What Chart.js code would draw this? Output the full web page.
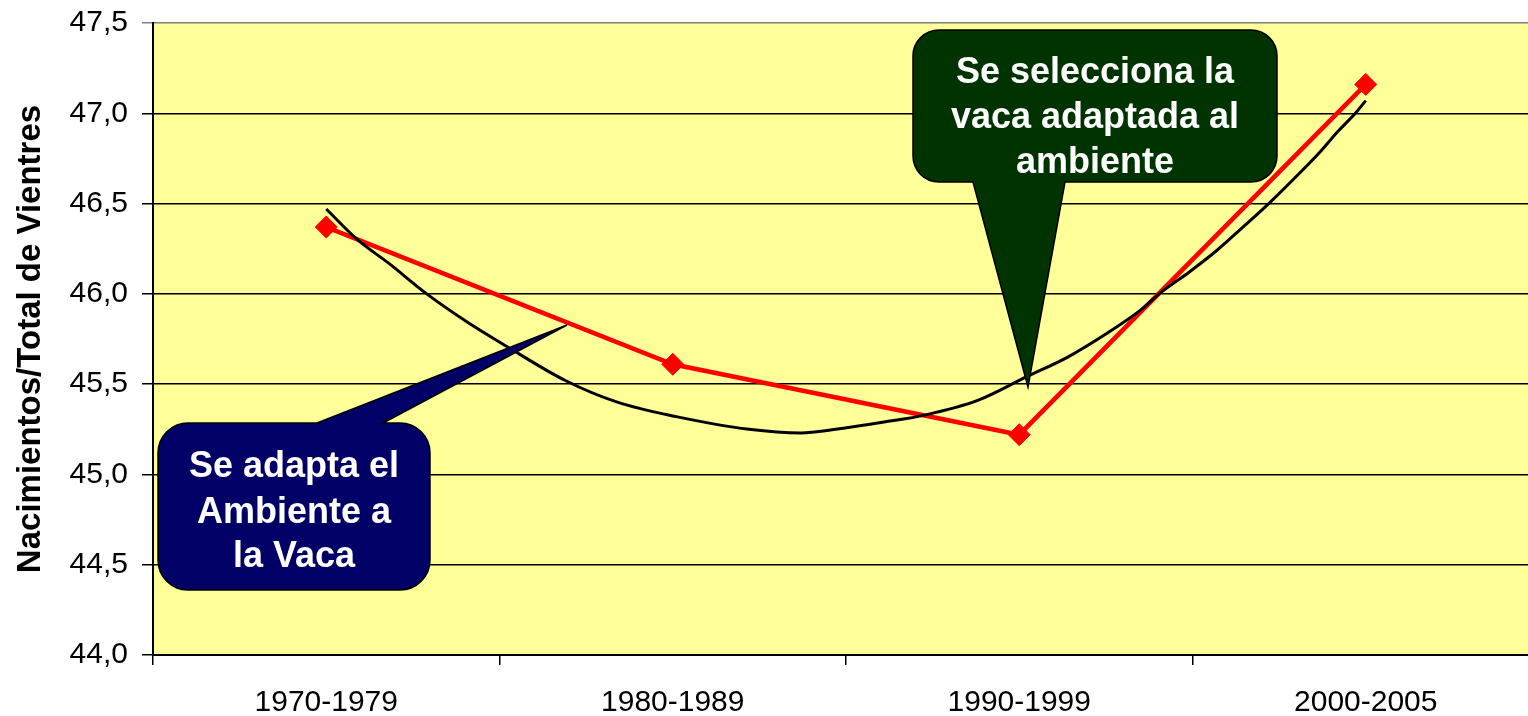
<!DOCTYPE html>
<html>
<head>
<meta charset="utf-8">
<script src="https://cdn.jsdelivr.net/npm/chart.js"></script>
<style>
  html, body { margin: 0; padding: 0; background: #fff; overflow: hidden; }
  #wrap { width: 1551px; height: 716px; }
</style>
</head>
<body>
<div id="wrap"><canvas id="chart" width="1551" height="716"></canvas></div>
<script>
const categories = ["1970-1979", "1980-1989", "1990-1999", "2000-2005"];
const birthRate = [46.37, 45.61, 45.22, 47.16];

// polynomial trend curve (x in category index units)
const trendX = [0, 0.09, 0.18, 0.29, 0.41, 0.52, 0.69, 0.84, 1.01, 1.22, 1.37, 1.47, 1.61, 1.73,
                1.88, 2.02, 2.14, 2.26, 2.35, 2.41, 2.49, 2.57, 2.64, 2.72, 2.82, 2.87, 2.92, 2.97, 3.0];
const trendY = [46.47, 46.30, 46.17, 46.00, 45.84, 45.71, 45.52, 45.40, 45.32, 45.25, 45.23, 45.25, 45.29, 45.33,
                45.41, 45.54, 45.65, 45.79, 45.91, 46.01, 46.12, 46.24, 46.36, 46.50, 46.69, 46.79, 46.90, 47.00, 47.07];

const calloutBlueText = ["Se adapta el", "Ambiente a", "la Vaca"];
const calloutGreenText = ["Se selecciona la", "vaca adaptada al", "ambiente"];

/* ---------- CALLOUTS ---------- */

const callouts = [
  { x: 158, y: 423, w: 272, h: 167, r: 30, side: "top", b1: 317, b2: 383, tip: [567, 325],
    fill: "#000066", lines: calloutBlueText, cx: 294, base: [477, 523, 567] },
  { x: 913, y: 30, w: 364, h: 152, r: 26, side: "bottom", b1: 973, b2: 1065, tip: [1028, 387],
    fill: "#003300", lines: calloutGreenText, cx: 1095, base: [83, 128, 173] }
];

function calloutPath(ctx, c) {
  const { x, y, w, h, r } = c;
  ctx.beginPath();
  ctx.moveTo(x + r, y);
  if (c.side === "top") {
    ctx.lineTo(c.b1, y);
    ctx.lineTo(c.tip[0], c.tip[1]);
    ctx.lineTo(c.b2, y);
  }
  ctx.lineTo(x + w - r, y);
  ctx.arcTo(x + w, y, x + w, y + r, r);
  ctx.lineTo(x + w, y + h - r);
  ctx.arcTo(x + w, y + h, x + w - r, y + h, r);
  if (c.side === "bottom") {
    ctx.lineTo(c.b2, y + h);
    ctx.lineTo(c.tip[0], c.tip[1]);
    ctx.lineTo(c.b1, y + h);
  }
  ctx.lineTo(x + r, y + h);
  ctx.arcTo(x, y + h, x, y + h - r, r);
  ctx.lineTo(x, y + r);
  ctx.arcTo(x, y, x + r, y, r);
  ctx.closePath();
}

const plotBackground = {
  id: "plotBackground",
  beforeDraw(chart) {
    const { ctx, chartArea: a } = chart;
    ctx.save();
    ctx.fillStyle = "#FFFF99";
    ctx.fillRect(a.left, a.top, a.right - a.left, a.bottom - a.top);
    ctx.restore();
  }
};

const calloutPlugin = {
  id: "callouts",
  afterDraw(chart) {
    const ctx = chart.ctx;
    callouts.forEach(c => {
      ctx.save();
      calloutPath(ctx, c);
      ctx.fillStyle = c.fill;
      ctx.fill();
      ctx.lineWidth = 1.5;
      ctx.strokeStyle = "#000";
      ctx.stroke();
      ctx.fillStyle = "#fff";
      ctx.font = 'bold 36px "Liberation Sans", Arial, sans-serif';
      ctx.textAlign = "center";
      ctx.textBaseline = "alphabetic";
      c.lines.forEach((t, i) => ctx.fillText(t, c.cx, c.base[i]));
      ctx.restore();
    });
  }
};

/* ---------- CHART ---------- */

new Chart(document.getElementById("chart"), {
  type: "line",
  data: {
    labels: categories,
    datasets: [
      {
        label: "Tendencia",
        data: trendX.map((x, i) => ({ x: x, y: trendY[i] })),
        xAxisID: "xt",
        borderColor: "#000",
        borderWidth: 3,
        pointRadius: 0,
        cubicInterpolationMode: "monotone",
        order: 0
      },
      {
        label: "Nacimientos",
        data: birthRate,
        xAxisID: "x",
        borderColor: "#FF0000",
        backgroundColor: "#FF0000",
        borderWidth: 4.5,
        pointStyle: "rectRot",
        pointRadius: 11,
        pointBorderWidth: 1,
        tension: 0,
        order: 1
      }
    ]
  },
  options: {
    responsive: false,
    animation: false,
    layout: { padding: { top: 23, right: 0, bottom: 0, left: 0 } },
    plugins: {
      legend: { display: false },
      tooltip: { enabled: false }
    },
    scales: {
      x: {
        type: "category",
        offset: true,
        grid: { offset: true, drawOnChartArea: false, tickLength: 10, color: "#000", lineWidth: 1.5 },
        border: { color: "#000", width: 2 },
        ticks: {
          color: "#000",
          padding: 20,
          font: { family: '"Liberation Sans", Arial, sans-serif', size: 30 }
        },
        afterFit: s => {
          s.height = 61;
          s.paddingLeft = 0;
          s.paddingRight = 0;
        }
      },
      xt: { type: "linear", display: false, min: -0.5, max: 3.5 },
      y: {
        min: 44,
        max: 47.5,
        ticks: {
          stepSize: 0.5,
          color: "#000",
          padding: 14,
          font: { family: '"Liberation Sans", Arial, sans-serif', size: 30 },
          callback: v => v.toFixed(1).replace(".", ",")
        },
        grid: {
          color: c => (c.tick && c.tick.value === 47.5 ? "#808080" : "#000"),
          lineWidth: 1.5,
          tickLength: 11
        },
        border: { color: "#000", width: 2 },
        title: {
          display: true,
          text: "Nacimientos/Total de Vientres",
          color: "#000",
          font: { family: '"Liberation Sans", Arial, sans-serif', size: 33, weight: "bold" },
          padding: { top: 11, bottom: 0 }
        },
        afterFit: s => {
          s.width = 153;
          s.paddingTop = 0;
          s.paddingBottom = 0;
        }
      }
    }
  },
  plugins: [plotBackground, calloutPlugin]
});
</script>
</body>
</html>
